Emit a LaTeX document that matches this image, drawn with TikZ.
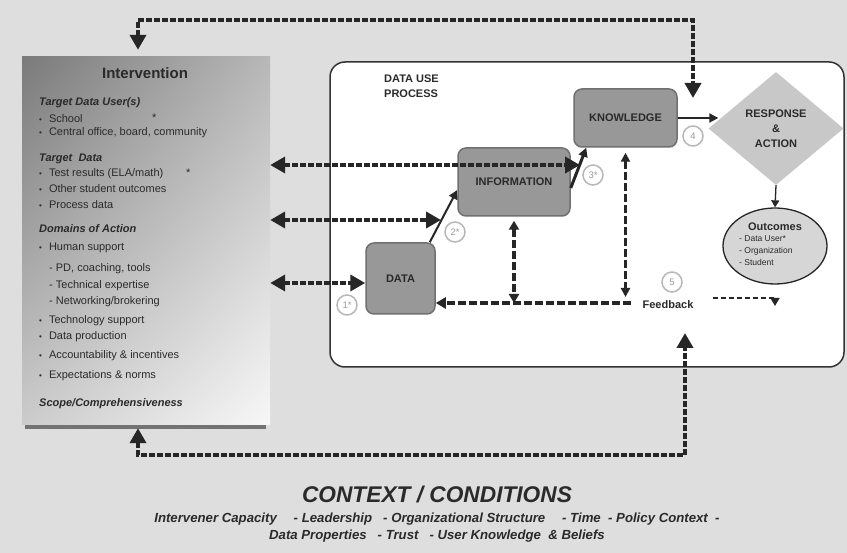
\documentclass[tikz,border=0pt]{standalone}
\usepackage{fontspec}
\setmainfont{Liberation Sans}
\usepackage{tikz}
\usetikzlibrary{arrows.meta,positioning,shapes.geometric,calc,shadings}
\definecolor{bggray}{RGB}{222,222,222}
\definecolor{stepgray}{RGB}{152,152,152}
\definecolor{stepedge}{RGB}{112,112,112}
\definecolor{diagray}{RGB}{200,200,200}
\definecolor{outgray}{RGB}{214,214,214}
\definecolor{inkgray}{RGB}{42,42,42}
\newcommand{\blt}{{\fontsize{8}{8}\selectfont\textbullet}\hspace{7pt}}

\begin{document}
\begin{tikzpicture}[x=1pt,y=-1pt,
  stepbox/.style={draw=stepedge,fill=stepgray,line width=1.5pt,rounded corners=8pt,
                  inner sep=0pt,font=\fontsize{11}{14}\selectfont\bfseries,text=inkgray},
  intbox/.style={minimum width=248pt,minimum height=368pt,inner sep=0pt,
                 upper left=black!52,upper right=black!28,lower left=black!20,lower right=black!3},
  procbox/.style={draw=black!80,line width=1.5pt,fill=white,rounded corners=15pt,
                  minimum width=514pt,minimum height=305pt},
  item/.style={anchor=west,inner sep=0pt,font=\fontsize{11}{13}\selectfont,text=inkgray},
  head/.style={item,font=\fontsize{11}{13}\selectfont\bfseries\itshape},
  lbl/.style={inner sep=0pt,font=\fontsize{11}{15}\selectfont\bfseries,text=inkgray},
  numc/.style={circle,draw=black!28,line width=1.5pt,fill=white,text=black!40,
               minimum size=20pt,inner sep=0pt,font=\fontsize{9.5}{9.5}\selectfont},
  bigdash/.style={line width=4pt,dash pattern=on 6pt off 2pt,color=black!85,
                  {Triangle[length=15pt,width=16pt]}-{Triangle[length=15pt,width=16pt]}},
  middash/.style={line width=3.5pt,dash pattern=on 8pt off 3pt,color=black!85},
  solidarr/.style={-{Triangle[length=9pt,width=9pt]},line width=2pt,color=black!85}
]
% background and frame
\fill[bggray] (0,0) rectangle (847,553);
\useasboundingbox (0,0) rectangle (847,553);

% intervention panel
\fill[black!55] (25,423) rectangle (266,429);
\node[intbox] (interv) at (146,241) {};
\node[font=\fontsize{15}{18}\selectfont\bfseries,text=inkgray] (ititle) at (145,73) {Intervention};
\foreach \yy/\txt [count=\i] in {103/Target Data User(s),159/Target\ \ Data,229/Domains of Action,404/{Scope/Comprehensiveness}}
  \node[head] (hd\i) at (39,\yy) {\txt};
\foreach \yy/\txt [count=\i] in {119/School,133/{Central office, board, community},174/{Test results (ELA/math)},
    189/Other student outcomes,205/Process data,248/Human support,321/Technology support,
    337/Data production,356/Accountability \& incentives,376/Expectations \& norms}
  \node[item] (bul\i) at (39,\yy) {\blt\txt};
\foreach \yy/\txt [count=\i] in {269/{- PD, coaching, tools},286/- Technical expertise,302/{- Networking/brokering}}
  \node[item] (sub\i) at (49,\yy) {\txt};
\node[item] (star1) at (152,118) {*};
\node[item] (star2) at (186,173) {*};

% data use process
\node[procbox] (proc) at (587,214.5) {};
\node[lbl,align=left,anchor=north west] (dup) at (384,75) {DATA USE\\PROCESS};
\node[stepbox,minimum width=69pt,minimum height=71pt] (data) at (400.5,278.5) {DATA};
\node[stepbox,minimum width=112pt,minimum height=68pt] (info) at (514,182) {INFORMATION};
\node[stepbox,minimum width=103pt,minimum height=58pt] (know) at (625.5,118) {KNOWLEDGE};
\node[diamond,fill=diagray,aspect=1.2,minimum width=135pt,minimum height=113pt,inner sep=0pt,
      align=center,font=\fontsize{11}{15}\selectfont\bfseries,text=inkgray] (resp) at (776,128.5) {RESPONSE\\\&\\ACTION};
\node[ellipse,draw=black!85,fill=outgray,line width=1.3pt,minimum width=104pt,minimum height=76pt] (outc) at (775,246) {};
\node[font=\fontsize{11}{13}\selectfont\bfseries,text=inkgray] (outttl) at (775,227) {Outcomes};
\node[anchor=north west,inner sep=0pt,align=left,font=\fontsize{8.5}{12}\selectfont,text=inkgray] (outlist) at (739,235)
  {- Data User*\\- Organization\\- Student};
\node[lbl] (fbtxt) at (668,305) {Feedback};

% step numbers
\node[numc] (n1) at (347,305) {1*};
\node[numc] (n2) at (455,232) {2*};
\node[numc] (n3) at (593,175) {3*};
\node[numc] (n4) at (693,136) {4};
\node[numc] (n5) at (672,282) {5};

% flow
\draw[solidarr] ([xshift=-6pt]data.north east) -- ([yshift=-8pt]info.west);
\draw[solidarr,line width=3pt] ([yshift=-6pt]info.east) -- ([xshift=13pt]know.south west);
\draw[solidarr] (know.east) -- ([xshift=10pt]know.east -| resp.west);
\draw[solidarr,line width=1.3pt,-{Triangle[length=7pt,width=8pt]}] (resp.south) -- (outc.north);

% feedback
\coordinate (fbL) at (631,303);
\coordinate (fbR) at (713,298);
\draw[middash,-{Triangle[length=10pt,width=11pt]}] (fbL) -- (data.east |- fbL);
\draw[middash,{Triangle[length=9pt,width=10pt]}-{Triangle[length=9pt,width=10pt]}] ([yshift=-4pt]info.south) -- (info.south |- fbL);
\draw[middash,line width=2.5pt,{Triangle[length=9pt,width=9pt]}-{Triangle[length=9pt,width=9pt]}] ([yshift=-5pt]know.south) -- ([yshift=6pt]know.south |- fbL);
\draw[line width=1.5pt,dash pattern=on 5pt off 3pt,color=black!85] (fbR) -- (fbR -| outc.south);
\draw[line width=1.5pt,color=black!85,-{Triangle[length=8pt,width=9pt]}] (fbR -| outc.south) -- ++(0,8);

% links to intervention
\coordinate (tok) at (580,165);
\coordinate (toi) at (441,220);
\draw[bigdash] (interv.east |- tok) -- (tok);
\draw[bigdash] (interv.east |- toi) -- (toi);
\draw[bigdash] (interv.east |- 0,283) -- ([yshift=-4.5pt]data.west);

% outer loops
\coordinate (respin) at (693,98);
\coordinate (fbin) at (685,333);
\draw[bigdash,shorten <=7pt] ([xshift=-8pt]interv.north) -- ++(0,-37) -| (respin);
\draw[bigdash] ([xshift=-8pt,yshift=-3pt]interv.south) -- (138,455) -| (fbin);

% context
\node[font=\fontsize{22.7}{26}\selectfont\bfseries\itshape,text=inkgray] (ctx) at (437,495) {CONTEXT / CONDITIONS};
\node[align=center,font=\fontsize{13.2}{17}\selectfont\bfseries\itshape,text=inkgray] (cond) at (437,528)
  {Intervener Capacity \quad - Leadership \ \ - Organizational Structure \quad - Time \ - Policy Context \ -\\
   Data Properties \ \ - Trust \ \ - User Knowledge \ \& Beliefs};
\end{tikzpicture}
\end{document}
